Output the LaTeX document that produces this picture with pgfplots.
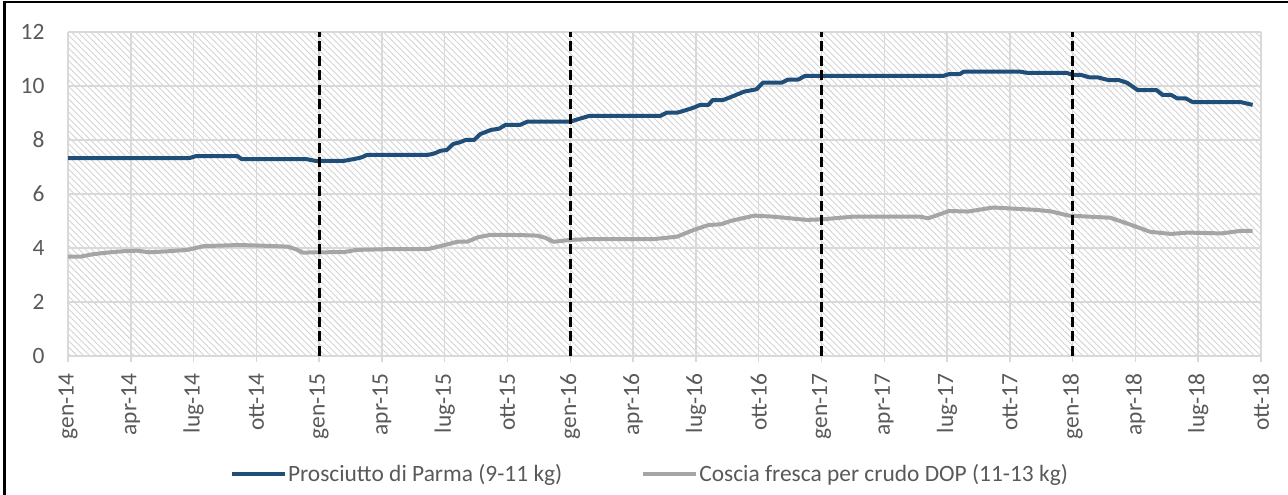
\documentclass[border=0pt]{standalone}
\usepackage{fontspec}
\setmainfont{Carlito}
\usepackage{pgfplots}
\pgfplotsset{compat=1.18}
\usetikzlibrary{patterns.meta}
\definecolor{bluel}{RGB}{31,78,121}
\definecolor{grayl}{RGB}{165,165,165}
\definecolor{txt}{RGB}{89,89,89}
\definecolor{gridc}{RGB}{217,217,217}
\definecolor{hatchc}{RGB}{212,212,212}
\newcommand{\chfont}{\fontsize{23.5}{28}\selectfont}
\begin{document}
\begin{tikzpicture}[x=1bp,y=1bp]
\useasboundingbox (0,0) rectangle (1288,495);
\draw[line width=2bp] (4.5,0) -- (4.5,492.7) -- (1288,492.7);
\begin{axis}[
  at={(68bp,139bp)}, anchor=south west,
  scale only axis, width=1193bp, height=324bp,
  xmin=0, xmax=57, ymin=0, ymax=12,
  xtick={0,3,...,57},
  xticklabels={gen-14,apr-14,lug-14,ott-14,gen-15,apr-15,lug-15,ott-15,gen-16,apr-16,lug-16,ott-16,gen-17,apr-17,lug-17,ott-17,gen-18,apr-18,lug-18,ott-18},
  ytick={0,2,...,12},
  /pgf/number format/assume math mode=true,
  axis line style={draw=none},
  grid=major,
  major grid style={gridc, line width=1.5bp},
  xtick pos=bottom, ytick pos=left,
  tick align=outside,
  major tick length=6bp,
  xtick style={gridc, line width=1.5bp},
  ytick style={draw=none},
  tick label style={font=\chfont, text=txt},
  x tick label style={rotate=90, anchor=east},
  xticklabel shift=8bp,
  y tick label style={xshift=-14bp},
  axis background/.style={pattern={Lines[angle=-45,distance=4.5bp,line width=0.9bp]}, pattern color=hatchc},
  legend columns=2,
  legend style={at={(0.4874,-0.364)}, anchor=center, draw=none, fill=none, font=\chfont, text=txt,
    nodes={inner sep=1bp},
    /tikz/every even column/.append style={column sep=78bp}},
  legend image code/.code={\draw[#1] (0bp,0bp) -- (53bp,0bp);},
]
\addplot[bluel, line width=4bp, line join=round] coordinates {
(0,7.33) (5.8,7.33) (6.1,7.40) (8.1,7.40) (8.3,7.29) (11.4,7.29) (11.8,7.23) (13.2,7.23) (13.7,7.30) (14.0,7.35) (14.3,7.45) (17.2,7.45) (17.5,7.50) (17.8,7.60) (18.1,7.63) (18.4,7.85) (18.7,7.91) (19.0,8.00) (19.4,8.00) (19.7,8.22) (20.2,8.37) (20.6,8.42) (20.9,8.56) (21.6,8.56) (21.95,8.68) (24.0,8.68) (24.5,8.80) (24.9,8.89) (28.3,8.89) (28.6,9.01) (29.1,9.01) (29.5,9.10) (29.9,9.20) (30.2,9.30) (30.6,9.30) (30.8,9.48) (31.3,9.48) (31.7,9.60) (32.3,9.79) (32.9,9.88) (33.2,10.12) (34.1,10.12) (34.4,10.24) (34.9,10.24) (35.2,10.37) (41.8,10.37) (42.1,10.44) (42.6,10.44) (42.8,10.53) (45.5,10.53) (45.8,10.49) (47.7,10.49) (48.0,10.41) (48.4,10.41) (48.8,10.32) (49.2,10.32) (49.7,10.22) (50.2,10.22) (50.6,10.12) (51.1,9.85) (52.0,9.85) (52.3,9.67) (52.7,9.67) (53.0,9.54) (53.4,9.54) (53.75,9.40) (56.05,9.40) (56.6,9.30)
};
\addlegendentry{Prosciutto di Parma (9-11 kg)}
\addplot[grayl, line width=4bp, line join=round] coordinates {
(0,3.68) (0.6,3.68) (1.2,3.77) (2.0,3.84) (2.8,3.89) (3.3,3.90) (3.9,3.84) (4.8,3.88) (5.7,3.93) (6.5,4.07) (8.2,4.11) (9.5,4.08) (10.5,4.05) (10.9,3.95) (11.2,3.83) (13.2,3.85) (13.8,3.93) (15.5,3.96) (17.2,3.96) (17.9,4.09) (18.6,4.23) (19.1,4.24) (19.6,4.40) (20.2,4.49) (21.5,4.48) (22.4,4.46) (22.8,4.38) (23.2,4.23) (24.0,4.30) (25.0,4.33) (28.0,4.33) (29.1,4.42) (29.9,4.67) (30.6,4.85) (31.2,4.88) (31.7,5.01) (32.8,5.20) (33.7,5.16) (35.3,5.04) (36.0,5.06) (37.5,5.16) (40.7,5.16) (41.1,5.10) (42.1,5.37) (43.0,5.35) (44.2,5.50) (46.3,5.41) (47.0,5.35) (47.8,5.20) (49.8,5.12) (50.6,4.91) (51.7,4.60) (52.7,4.52) (53.5,4.57) (55.1,4.54) (56.0,4.63) (56.6,4.63)
};
\addlegendentry{Coscia fresca per crudo DOP (11-13 kg)}
\addplot[forget plot, black, line width=3bp, dash pattern=on 10bp off 4.5bp] coordinates {(12,0) (12,12)};
\addplot[forget plot, black, line width=3bp, dash pattern=on 10bp off 4.5bp] coordinates {(24,0) (24,12)};
\addplot[forget plot, black, line width=3bp, dash pattern=on 10bp off 4.5bp] coordinates {(36,0) (36,12)};
\addplot[forget plot, black, line width=3bp, dash pattern=on 10bp off 4.5bp] coordinates {(48,0) (48,12)};
\end{axis}
\end{tikzpicture}
\end{document}
